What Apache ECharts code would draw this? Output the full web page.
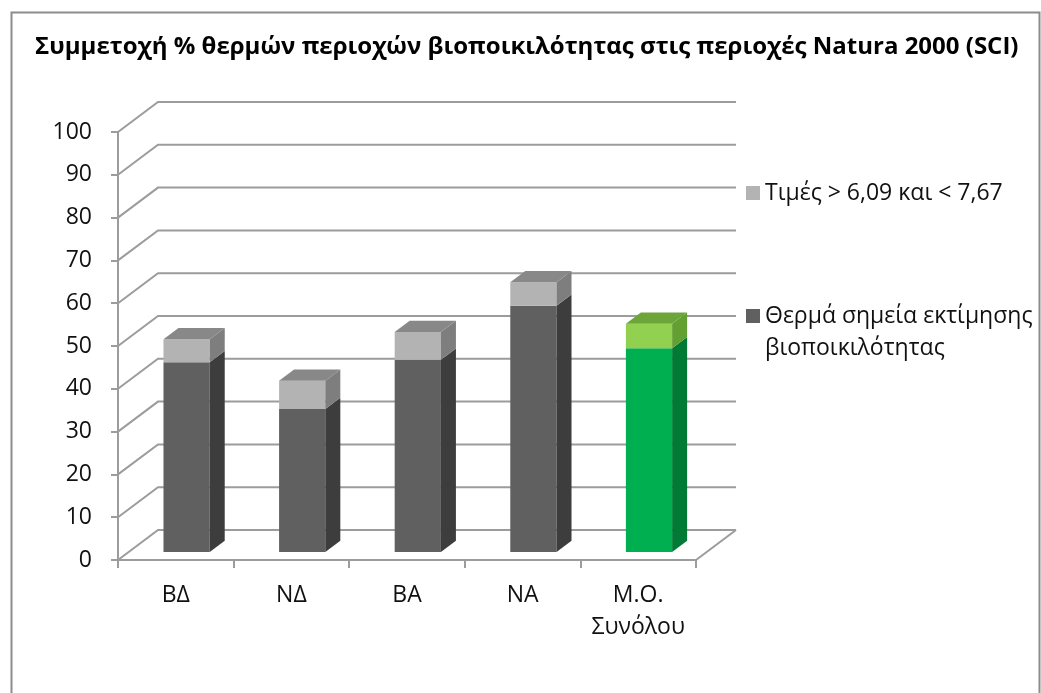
<!DOCTYPE html>
<html>
<head>
<meta charset="utf-8">
<script src="https://cdn.jsdelivr.net/npm/echarts@6/dist/echarts.min.js"></script>
<style>
  html, body { margin: 0; padding: 0; background: #fff; }
  #chart { width: 1041px; height: 693px; }
</style>
</head>
<body>
<div id="chart"></div>
<script>
// Regions and their share (%) of biodiversity hot spots
const categories = ['ΒΔ', 'ΝΔ', 'ΒΑ', 'ΝΑ', 'Μ.Ο.\nΣυνόλου'];
const hotspotValues = [44.3, 33.4, 44.9, 57.5, 47.6];
const rangeValues = [5.4, 6.6, 6.5, 5.5, 5.7];
const yTicks = [0, 10, 20, 30, 40, 50, 60, 70, 80, 90, 100];

const seriesHot = 'Θερμά σημεία εκτίμησης βιοποικιλότητας';
const seriesRange = 'Τιμές > 6,09 και < 7,67';
const titleText = 'Συμμετοχή % θερμών περιοχών βιοποικιλότητας στις περιοχές Natura 2000 (SCI)';

// oblique projection of the chart box depth
const DEPTH_X = 40, DEPTH_Y = -30;
// bars sit partway into the box
const BAR_FRONT = 0.27, BAR_DEPTH = 0.375;
const FONT = '"Open Sans", "Noto Sans", sans-serif';
const GRID_COLOR = '#9c9c9c';

const palette = {
  gray:  { low: ['#606060', '#3d3d3d'], high: ['#b3b3b3', '#7e7e7e', '#888888'] },
  green: { low: ['#00b050', '#007a35'], high: ['#92d050', '#62a032', '#6da53a'] }
};

const lowData = hotspotValues.map((v, i) => [i, 0, v]);
const highData = hotspotValues.map((v, i) => [i, v, v + rangeValues[i]]);
const wallData = yTicks.map(v => [0, v]);

function renderWall(params, api) {
  const cs = params.coordSys;
  const v = api.value(1);
  const y = api.coord([0, v])[1];
  const x0 = cs.x, x1 = cs.x + cs.width;
  const style = { stroke: GRID_COLOR, lineWidth: 2, fill: null };
  const children = [
    { type: 'polyline', shape: { points: [[x0, y], [x0 + DEPTH_X, y + DEPTH_Y], [x1 + DEPTH_X, y + DEPTH_Y]] }, style }
  ];
  if (v === 0) {
    children.push({ type: 'line', shape: { x1: x1, y1: y, x2: x1 + DEPTH_X, y2: y + DEPTH_Y }, style });
  }
  return { type: 'group', children };
}

function makeBarRenderer(isTop) {
  return function (params, api) {
    const i = api.value(0);
    const lo = api.coord([i, api.value(1)]);
    const hi = api.coord([i, api.value(2)]);
    const bw = api.size([1, 0])[0] * 0.4;
    const fx = DEPTH_X * BAR_FRONT, fy = DEPTH_Y * BAR_FRONT;
    const dx = DEPTH_X * BAR_DEPTH, dy = DEPTH_Y * BAR_DEPTH;
    const xl = lo[0] - bw / 2 + fx, xr = xl + bw;
    const yb = lo[1] + fy, yt = hi[1] + fy;
    const pal = i === categories.length - 1 ? palette.green : palette.gray;
    const c = isTop ? pal.high : pal.low;
    const children = [
      { type: 'rect', shape: { x: xl, y: yt, width: bw, height: yb - yt }, style: { fill: c[0] } },
      { type: 'polygon', shape: { points: [[xr, yb], [xr + dx, yb + dy], [xr + dx, yt + dy], [xr, yt]] }, style: { fill: c[1] } }
    ];
    if (isTop) {
      children.push({ type: 'polygon', shape: { points: [[xl, yt], [xr, yt], [xr + dx, yt + dy], [xl + dx, yt + dy]] }, style: { fill: c[2] } });
    }
    return { type: 'group', children };
  };
}

const chart = echarts.init(document.getElementById('chart'), null, { renderer: 'canvas' });
chart.setOption({
  animation: false,
  backgroundColor: '#ffffff',
  title: {
    text: titleText,
    left: 30,
    top: 26,
    textStyle: { fontFamily: FONT, fontWeight: 'bold', fontSize: 24, lineHeight: 32, color: '#000' }
  },
  graphic: [{
    type: 'rect', left: 9, top: 10, z: -10,
    shape: { width: 1028, height: 700 },
    style: { fill: null, stroke: '#8c8c8c', lineWidth: 2 }
  }],
  legend: [{
    data: [seriesRange],
    orient: 'vertical', left: 741, top: 172,
    icon: 'rect', itemWidth: 14, itemHeight: 14,
    textStyle: { fontFamily: FONT, fontSize: 23, color: '#111', lineHeight: 32 },
    selectedMode: false
  }, {
    data: [seriesHot],
    orient: 'vertical', left: 741, top: 263,
    icon: 'rect', itemWidth: 14, itemHeight: 14,
    // blank first line keeps the marker beside the first text line
    formatter: () => ' \nΘερμά σημεία εκτίμησης\nβιοποικιλότητας',
    textStyle: { fontFamily: FONT, fontSize: 23, color: '#111', lineHeight: 32 },
    selectedMode: false
  }],
  grid: { left: 118, right: 345, top: 132, bottom: 133 },
  xAxis: {
    type: 'category',
    data: categories,
    axisLine: { lineStyle: { color: GRID_COLOR, width: 2 } },
    axisTick: { show: true, length: 8, interval: 0, lineStyle: { color: GRID_COLOR, width: 2 } },
    axisLabel: { interval: 0, margin: 19, fontFamily: FONT, fontSize: 23, lineHeight: 32, color: '#111' },
    splitLine: { show: false }
  },
  yAxis: {
    type: 'value',
    min: 0, max: 100, interval: 10,
    axisLine: { show: true, lineStyle: { color: GRID_COLOR, width: 2 } },
    axisTick: { show: true, length: 7, lineStyle: { color: GRID_COLOR, width: 2 } },
    axisLabel: { margin: 26, fontFamily: FONT, fontSize: 23, color: '#111' },
    splitLine: { show: false }
  },
  series: [
    { name: 'wall', type: 'custom', renderItem: renderWall, data: wallData, clip: false, z: 1, silent: true, encode: { x: 0, y: 1 } },
    { name: seriesHot, type: 'custom', renderItem: makeBarRenderer(false), data: lowData, clip: false, z: 2,
      itemStyle: { color: '#606060' }, encode: { x: 0, y: [1, 2] } },
    { name: seriesRange, type: 'custom', renderItem: makeBarRenderer(true), data: highData, clip: false, z: 2,
      itemStyle: { color: '#b3b3b3' }, encode: { x: 0, y: [1, 2] } }
  ]
});
</script>
</body>
</html>
